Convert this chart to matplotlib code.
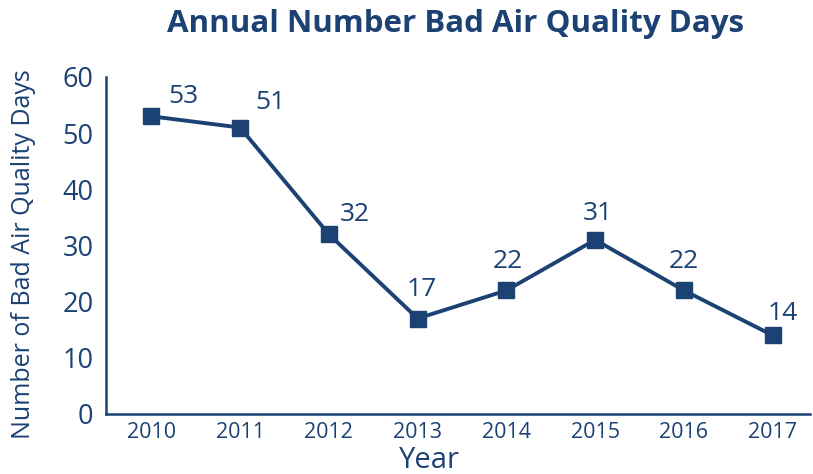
import matplotlib
matplotlib.use('Agg')
import matplotlib.pyplot as plt

years = [2010, 2011, 2012, 2013, 2014, 2015, 2016, 2017]
bad_days = [53, 51, 32, 17, 22, 31, 22, 14]
# label offsets in points (dx, dy) from each marker
label_offsets = [(23, 14), (22, 18), (19, 14), (3, 21), (1, 21), (2, 19), (0, 21), (7, 16)]

navy = '#1b4273'
plt.rcParams['font.family'] = ['Open Sans', 'DejaVu Sans']

fig = plt.figure(figsize=(8.13, 4.74), dpi=100)
ax = fig.add_axes([0.1304, 0.1266, 0.8659, 0.711])

ax.plot(years, bad_days, color=navy, lw=2.8, marker='s', ms=11, zorder=3)

for x, y, (dx, dy) in zip(years, bad_days, label_offsets):
    ax.annotate(str(y), (x, y), xytext=(dx, dy), textcoords='offset points',
                ha='center', va='center', fontsize=19, color=navy)

ax.set_xlim(2009.49, 2017.42)
ax.set_ylim(0, 60)
ax.set_yticks(range(0, 61, 10))
ax.set_xticks(years)

for s in ['top', 'right']:
    ax.spines[s].set_visible(False)
for s in ['left', 'bottom']:
    ax.spines[s].set_color(navy)
    ax.spines[s].set_linewidth(1.8)

ax.tick_params(axis='y', length=0, labelsize=19.5, labelcolor=navy, pad=9)
ax.tick_params(axis='x', length=0, labelsize=15.5, labelcolor=navy, pad=6)

ax.set_ylabel('Number of Bad Air Quality Days', fontsize=18, color=navy)
ax.yaxis.set_label_coords(-0.1, 0.475)
ax.set_xlabel('Year', fontsize=21, color=navy)
ax.xaxis.set_label_coords(0.459, -0.095)
fig.suptitle('Annual Number Bad Air Quality Days', x=0.56, y=0.98,
             fontsize=22.5, fontweight='bold', color=navy)

fig.savefig('out.png', dpi=100)
